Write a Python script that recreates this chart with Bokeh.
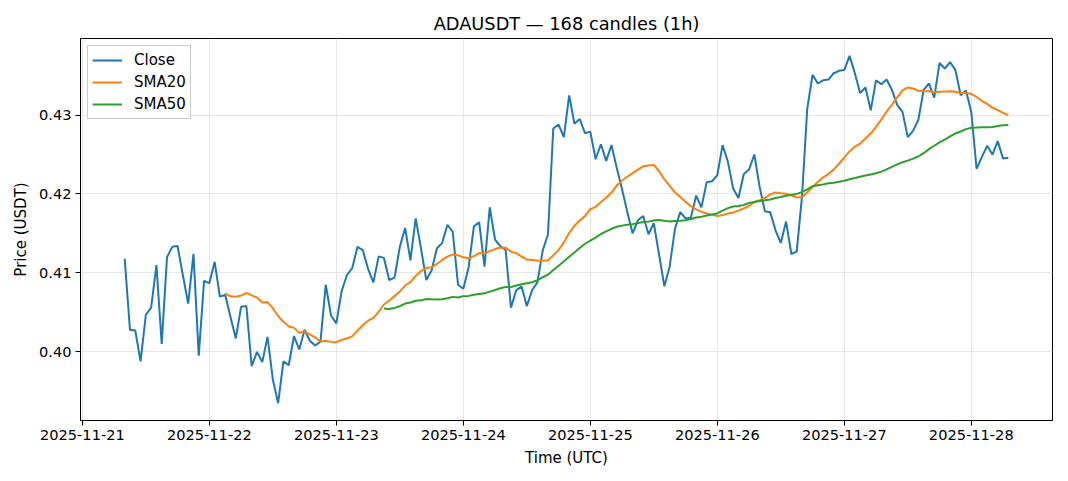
import pandas as pd
from bokeh.plotting import figure
from bokeh.models import FixedTicker, PrintfTickFormatter, DatetimeTickFormatter, Range1d, Legend, LegendItem
from bokeh.embed import file_html
from bokeh.resources import INLINE

start_time = "2025-11-21 08:00"
n_candles = 168
close = [
    0.4118, 0.4028, 0.4027, 0.3988, 0.4047, 0.4056, 0.4110, 0.4010, 0.4120, 0.4133,
    0.4134, 0.4097, 0.4061, 0.4124, 0.3995, 0.4090, 0.4087, 0.4114, 0.4070, 0.4072,
    0.4044, 0.4017, 0.4057, 0.4058, 0.3982, 0.4000, 0.3987, 0.4019, 0.3965, 0.3935,
    0.3988, 0.3983, 0.4020, 0.4003, 0.4028, 0.4014, 0.4008, 0.4013, 0.4085, 0.4046,
    0.4036, 0.4077, 0.4097, 0.4106, 0.4133, 0.4129, 0.4105, 0.4088, 0.4121, 0.4119,
    0.4091, 0.4094, 0.4133, 0.4157, 0.4116, 0.4169, 0.4131, 0.4091, 0.4103, 0.4131,
    0.4138, 0.4161, 0.4152, 0.4085, 0.4080, 0.4107, 0.4159, 0.4164, 0.4108, 0.4183,
    0.4142, 0.4134, 0.4129, 0.4056, 0.4078, 0.4083, 0.4058, 0.4078, 0.4088, 0.4128,
    0.4149, 0.4283, 0.4288, 0.4272, 0.4325, 0.4289, 0.4295, 0.4277, 0.4279, 0.4244,
    0.4263, 0.4242, 0.4262, 0.4233, 0.4206, 0.4177, 0.4150, 0.4167, 0.4172, 0.4149,
    0.4163, 0.4123, 0.4083, 0.4108, 0.4156, 0.4177, 0.4169, 0.4170, 0.4198, 0.4183,
    0.4215, 0.4216, 0.4224, 0.4262, 0.4241, 0.4207, 0.4195, 0.4225, 0.4231, 0.4250,
    0.4209, 0.4178, 0.4177, 0.4154, 0.4138, 0.4165, 0.4124, 0.4127, 0.4196, 0.4308,
    0.4351, 0.4340, 0.4344, 0.4345, 0.4353, 0.4356, 0.4357, 0.4375, 0.4353, 0.4328,
    0.4335, 0.4306, 0.4344, 0.4339, 0.4345, 0.4332, 0.4313, 0.4304, 0.4272, 0.4280,
    0.4294, 0.4332, 0.4340, 0.4322, 0.4366, 0.4359, 0.4367, 0.4357, 0.4325, 0.4331,
    0.4304, 0.4232, 0.4247, 0.4261, 0.4250, 0.4267, 0.4245, 0.4246,
]
y_ticks = [0.40, 0.41, 0.42, 0.43]
x_tick_days = ["2025-11-21", "2025-11-22", "2025-11-23", "2025-11-24",
               "2025-11-25", "2025-11-26", "2025-11-27", "2025-11-28"]

times = pd.date_range(start_time, periods=n_candles, freq="h")
s = pd.Series(close)
sma20 = s.rolling(20).mean()
sma50 = s.rolling(50).mean()

FONT = "DejaVu Sans"

span = times[-1] - times[0]
pad = span * 0.05
x0 = times[0] - pad
x1 = times[-1] + pad
ymin, ymax = min(close), max(close)
ypad = (ymax - ymin) * 0.05

p = figure(width=1060, height=473, output_backend="svg", toolbar_location=None,
           x_axis_type="datetime",
           x_range=Range1d(x0, x1), y_range=Range1d(ymin - ypad, ymax + ypad),
           min_border_left=80, min_border_right=8, min_border_top=38, min_border_bottom=53)

p.title.text = "ADAUSDT \u2014 168 candles (1h)"
p.title.align = "center"
p.title.text_font = FONT
p.title.text_font_size = "17.8px"
p.title.text_font_style = "normal"
p.title.text_color = "#000000"

r_close = p.line(times, close, line_color="#1f77b4", line_width=2)
r20 = p.line(times[19:], sma20[19:].values, line_color="#ff7f0e", line_width=2)
r50 = p.line(times[49:], sma50[49:].values, line_color="#2ca02c", line_width=2)

tick_ms = [pd.Timestamp(d).value // 10**6 for d in x_tick_days]
p.xaxis.ticker = FixedTicker(ticks=tick_ms)
p.xaxis.formatter = DatetimeTickFormatter(days="%Y-%m-%d", months="%Y-%m-%d", hours="%Y-%m-%d")
p.yaxis.ticker = FixedTicker(ticks=y_ticks)
p.yaxis.formatter = PrintfTickFormatter(format="%.2f")

for ax in (p.xaxis[0], p.yaxis[0]):
    ax.major_label_text_font = FONT
    ax.major_label_text_font_size = "14.6px"
    ax.major_label_text_color = "#000000"
    ax.axis_label_text_font = FONT
    ax.axis_label_text_font_size = "15px"
    ax.axis_label_text_font_style = "normal"
    ax.axis_label_text_color = "#000000"
    ax.axis_line_color = "#000000"
    ax.major_tick_line_color = "#000000"
    ax.major_tick_out = 5
    ax.major_tick_in = 0
    ax.minor_tick_line_color = None
    ax.axis_label_standoff = 6
    ax.major_label_standoff = 4

p.xaxis.axis_label = "Time (UTC)"
p.yaxis.axis_label = "Price (USDT)"

p.xgrid.grid_line_color = "#e6e6e6"
p.ygrid.grid_line_color = "#e6e6e6"
p.outline_line_color = "#000000"
p.outline_line_alpha = 1.0

legend = Legend(items=[LegendItem(label="Close", renderers=[r_close]),
                       LegendItem(label="SMA20", renderers=[r20]),
                       LegendItem(label="SMA50", renderers=[r50])],
                location="top_left")
legend.label_text_font = FONT
legend.label_text_font_size = "15px"
legend.label_text_color = "#000000"
legend.border_line_color = "#cccccc"
legend.border_line_alpha = 1.0
legend.background_fill_alpha = 0.8
legend.glyph_width = 30
legend.glyph_height = 20
legend.label_height = 20
legend.label_standoff = 12
legend.spacing = 2
legend.padding = 4
legend.margin = 7
p.add_layout(legend)

p.background_fill_color = "white"
p.border_fill_color = "white"

open("out.html", "w").write(file_html(p, INLINE))
